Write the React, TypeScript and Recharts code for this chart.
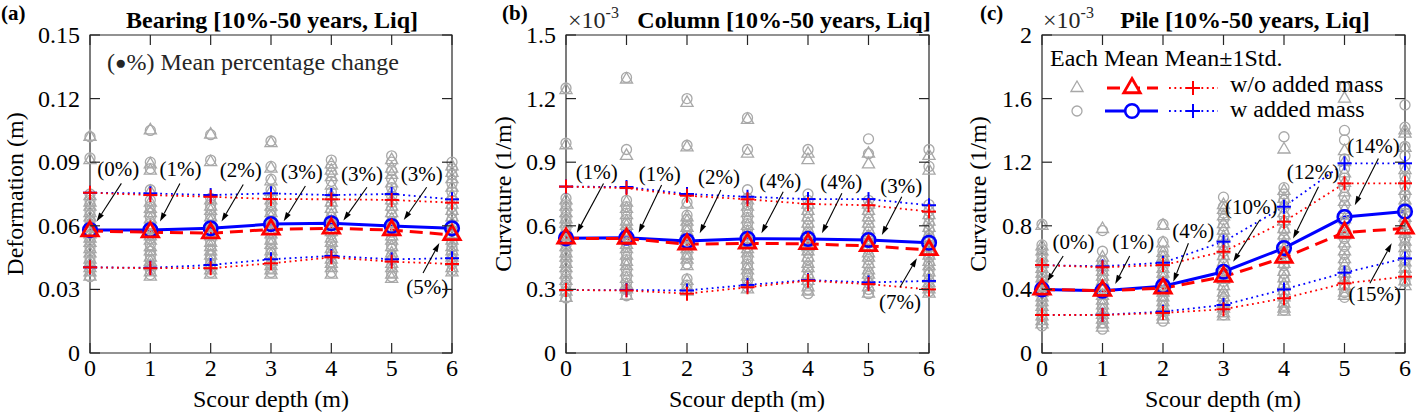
import React from "react";
import {
  ComposedChart,
  Line,
  Scatter,
  XAxis,
  YAxis,
  ReferenceArea,
  ReferenceLine,
  ReferenceDot,
} from "recharts";

const FONT = "'Liberation Serif', 'Times New Roman', serif";
const GREY = "#a8a8a8";
const RED = "#ff0000";
const BLUE = "#0000ff";
const AX = "#262626";

// Scour depth (m)
const depth = [0, 1, 2, 3, 4, 5, 6];

// (a) Bearing deformation (m)
const meanWoA = [0.0575, 0.057, 0.0565, 0.0583, 0.0588, 0.058, 0.0557];
const meanWA = [0.058, 0.058, 0.0588, 0.0608, 0.0612, 0.0599, 0.0588];
const upWoA = [0.0756, 0.0745, 0.0737, 0.0726, 0.0725, 0.0722, 0.0709];
const upWA = [0.0756, 0.0753, 0.0745, 0.0753, 0.0745, 0.075, 0.0725];
const loWoA = [0.0404, 0.040, 0.040, 0.0423, 0.0451, 0.0431, 0.042];
const loWA = [0.0404, 0.0402, 0.0415, 0.0442, 0.0458, 0.0442, 0.0447];
const eachWoA = [
  [0.102, 0.091, 0.074, 0.071, 0.069, 0.066, 0.064, 0.061, 0.059, 0.056, 0.054, 0.052, 0.049, 0.047, 0.044, 0.042, 0.040, 0.038, 0.036],
  [0.105, 0.089, 0.086, 0.076, 0.071, 0.068, 0.066, 0.063, 0.060, 0.058, 0.055, 0.053, 0.050, 0.048, 0.045, 0.043, 0.041, 0.038, 0.036],
  [0.103, 0.090, 0.072, 0.069, 0.067, 0.064, 0.062, 0.059, 0.057, 0.055, 0.052, 0.050, 0.048, 0.046, 0.043, 0.041, 0.039, 0.037],
  [0.099, 0.087, 0.081, 0.076, 0.072, 0.069, 0.066, 0.064, 0.061, 0.058, 0.056, 0.053, 0.051, 0.048, 0.046, 0.043, 0.041, 0.039, 0.037],
  [0.089, 0.086, 0.083, 0.079, 0.074, 0.071, 0.068, 0.065, 0.062, 0.060, 0.057, 0.054, 0.052, 0.049, 0.047, 0.044, 0.042, 0.040, 0.037],
  [0.091, 0.087, 0.084, 0.080, 0.076, 0.072, 0.069, 0.066, 0.063, 0.061, 0.058, 0.055, 0.053, 0.050, 0.047, 0.045, 0.042, 0.040, 0.037, 0.035],
  [0.088, 0.085, 0.082, 0.078, 0.074, 0.070, 0.067, 0.064, 0.061, 0.058, 0.056, 0.053, 0.050, 0.048, 0.045, 0.043, 0.040, 0.038],
];
const eachWA = [
  [0.102, 0.092, 0.075, 0.072, 0.070, 0.067, 0.065, 0.062, 0.060, 0.057, 0.055, 0.053, 0.050, 0.048, 0.045, 0.043, 0.041, 0.039, 0.036],
  [0.105, 0.090, 0.087, 0.077, 0.072, 0.069, 0.066, 0.064, 0.061, 0.059, 0.056, 0.054, 0.051, 0.048, 0.046, 0.044, 0.041, 0.039, 0.037],
  [0.103, 0.091, 0.073, 0.070, 0.068, 0.065, 0.063, 0.060, 0.058, 0.056, 0.053, 0.051, 0.049, 0.046, 0.044, 0.042, 0.040, 0.038],
  [0.100, 0.088, 0.082, 0.077, 0.073, 0.070, 0.067, 0.065, 0.062, 0.060, 0.057, 0.054, 0.052, 0.049, 0.047, 0.045, 0.042, 0.040, 0.038],
  [0.091, 0.088, 0.085, 0.081, 0.076, 0.073, 0.070, 0.067, 0.064, 0.061, 0.058, 0.056, 0.053, 0.051, 0.048, 0.046, 0.043, 0.041, 0.038],
  [0.093, 0.090, 0.086, 0.082, 0.078, 0.074, 0.071, 0.068, 0.065, 0.062, 0.059, 0.057, 0.054, 0.051, 0.049, 0.046, 0.044, 0.041, 0.038, 0.036],
  [0.090, 0.087, 0.084, 0.080, 0.076, 0.072, 0.069, 0.066, 0.063, 0.060, 0.058, 0.055, 0.052, 0.050, 0.047, 0.045, 0.042, 0.039],
];
const pctA = ["(0%)", "(1%)", "(2%)", "(3%)", "(3%)", "(3%)", "(5%)"];

// (b) Column curvature (x1e-3 1/m)
const meanWoB = [0.541, 0.540, 0.513, 0.517, 0.515, 0.505, 0.486];
const meanWB = [0.541, 0.544, 0.528, 0.539, 0.538, 0.533, 0.520];
const upWoB = [0.785, 0.778, 0.742, 0.725, 0.703, 0.697, 0.667];
const upWB = [0.785, 0.783, 0.750, 0.737, 0.726, 0.726, 0.697];
const loWoB = [0.297, 0.295, 0.280, 0.310, 0.341, 0.325, 0.300];
const loWB = [0.297, 0.297, 0.295, 0.321, 0.344, 0.333, 0.340];
const eachWoB = [
  [1.24, 0.98, 0.72, 0.69, 0.66, 0.63, 0.61, 0.58, 0.55, 0.53, 0.50, 0.47, 0.45, 0.42, 0.40, 0.37, 0.34, 0.31, 0.29, 0.26],
  [1.29, 0.93, 0.71, 0.68, 0.65, 0.62, 0.60, 0.57, 0.54, 0.51, 0.49, 0.46, 0.43, 0.41, 0.38, 0.35, 0.32, 0.30, 0.27],
  [1.18, 0.97, 0.70, 0.64, 0.62, 0.59, 0.57, 0.54, 0.51, 0.49, 0.46, 0.44, 0.41, 0.34, 0.31, 0.29],
  [1.10, 0.94, 0.72, 0.69, 0.66, 0.63, 0.60, 0.57, 0.55, 0.52, 0.49, 0.47, 0.44, 0.41, 0.39, 0.36, 0.33, 0.30],
  [0.94, 0.91, 0.70, 0.67, 0.64, 0.61, 0.58, 0.56, 0.53, 0.50, 0.48, 0.45, 0.42, 0.40, 0.37, 0.34, 0.31, 0.29],
  [0.94, 0.89, 0.70, 0.67, 0.64, 0.61, 0.58, 0.55, 0.53, 0.50, 0.47, 0.45, 0.42, 0.39, 0.37, 0.34, 0.31, 0.28],
  [0.93, 0.86, 0.68, 0.65, 0.62, 0.59, 0.56, 0.54, 0.51, 0.48, 0.46, 0.43, 0.41, 0.38, 0.35, 0.33, 0.30, 0.28],
];
const eachWB = [
  [1.25, 0.99, 0.73, 0.70, 0.67, 0.64, 0.62, 0.59, 0.56, 0.54, 0.51, 0.48, 0.46, 0.43, 0.41, 0.38, 0.35, 0.32, 0.29, 0.26],
  [1.30, 0.96, 0.72, 0.69, 0.66, 0.63, 0.61, 0.58, 0.55, 0.52, 0.50, 0.47, 0.44, 0.42, 0.39, 0.36, 0.33, 0.30, 0.27],
  [1.20, 0.98, 0.71, 0.65, 0.63, 0.60, 0.58, 0.55, 0.52, 0.50, 0.47, 0.45, 0.42, 0.35, 0.32, 0.30],
  [1.11, 0.96, 0.77, 0.73, 0.70, 0.67, 0.64, 0.61, 0.58, 0.56, 0.53, 0.50, 0.48, 0.45, 0.42, 0.40, 0.37, 0.34, 0.31],
  [0.96, 0.75, 0.72, 0.69, 0.66, 0.63, 0.60, 0.57, 0.55, 0.52, 0.49, 0.47, 0.44, 0.41, 0.39, 0.36, 0.33, 0.30, 0.28],
  [1.01, 0.94, 0.72, 0.69, 0.66, 0.63, 0.60, 0.57, 0.55, 0.52, 0.49, 0.46, 0.44, 0.41, 0.38, 0.36, 0.33, 0.30, 0.28],
  [0.96, 0.88, 0.70, 0.67, 0.64, 0.61, 0.58, 0.55, 0.53, 0.50, 0.47, 0.45, 0.42, 0.39, 0.37, 0.34, 0.31, 0.29],
];
const pctB = ["(1%)", "(1%)", "(2%)", "(4%)", "(4%)", "(3%)", "(7%)"];

// (c) Pile curvature (x1e-3 1/m)
const meanWoC = [0.40, 0.392, 0.407, 0.48, 0.60, 0.758, 0.784];
const meanWC = [0.40, 0.392, 0.42, 0.511, 0.66, 0.855, 0.89];
const upWoC = [0.553, 0.539, 0.553, 0.637, 0.826, 1.067, 1.067];
const upWC = [0.553, 0.545, 0.568, 0.70, 0.92, 1.193, 1.193];
const loWoC = [0.239, 0.239, 0.252, 0.275, 0.344, 0.438, 0.48];
const loWC = [0.239, 0.24, 0.26, 0.302, 0.40, 0.505, 0.595];
const eachWoC = [
  [0.80, 0.67, 0.64, 0.60, 0.56, 0.53, 0.50, 0.47, 0.44, 0.41, 0.38, 0.35, 0.32, 0.29, 0.26, 0.23, 0.20, 0.18],
  [0.78, 0.60, 0.57, 0.54, 0.51, 0.48, 0.45, 0.42, 0.39, 0.36, 0.33, 0.30, 0.27, 0.24, 0.21, 0.18, 0.16],
  [0.80, 0.69, 0.63, 0.60, 0.57, 0.53, 0.50, 0.47, 0.44, 0.41, 0.38, 0.35, 0.32, 0.29, 0.26, 0.23, 0.21],
  [0.93, 0.90, 0.86, 0.81, 0.77, 0.73, 0.69, 0.65, 0.61, 0.57, 0.53, 0.49, 0.46, 0.42, 0.38, 0.35, 0.31, 0.28, 0.25, 0.23],
  [1.28, 1.02, 0.97, 0.93, 0.88, 0.83, 0.78, 0.74, 0.69, 0.65, 0.60, 0.56, 0.51, 0.47, 0.43, 0.39, 0.35, 0.31, 0.28, 0.26],
  [1.60, 1.27, 1.20, 1.13, 1.07, 1.01, 0.95, 0.90, 0.84, 0.79, 0.74, 0.69, 0.64, 0.59, 0.55, 0.50, 0.46, 0.42, 0.38, 0.36],
  [1.40, 1.38, 1.29, 1.15, 1.09, 1.02, 0.96, 0.91, 0.85, 0.80, 0.75, 0.70, 0.66, 0.61, 0.57, 0.53, 0.49, 0.45, 0.42],
];
const eachWC = [
  [0.81, 0.68, 0.65, 0.61, 0.57, 0.54, 0.51, 0.48, 0.45, 0.42, 0.39, 0.36, 0.33, 0.30, 0.27, 0.24, 0.21, 0.17],
  [0.77, 0.64, 0.58, 0.55, 0.52, 0.49, 0.46, 0.43, 0.40, 0.37, 0.34, 0.31, 0.28, 0.25, 0.22, 0.19, 0.15],
  [0.81, 0.70, 0.64, 0.61, 0.58, 0.54, 0.51, 0.48, 0.45, 0.42, 0.39, 0.36, 0.33, 0.30, 0.27, 0.24, 0.20],
  [0.98, 0.92, 0.88, 0.84, 0.80, 0.76, 0.72, 0.68, 0.64, 0.60, 0.56, 0.52, 0.49, 0.45, 0.41, 0.37, 0.34, 0.30, 0.27, 0.24],
  [1.36, 1.04, 1.00, 0.96, 0.91, 0.86, 0.82, 0.77, 0.72, 0.68, 0.63, 0.59, 0.55, 0.50, 0.46, 0.42, 0.38, 0.34, 0.30, 0.27],
  [1.675, 1.40, 1.34, 1.22, 1.16, 1.10, 1.04, 0.98, 0.93, 0.87, 0.82, 0.77, 0.72, 0.67, 0.62, 0.57, 0.52, 0.48, 0.43, 0.38, 0.35],
  [1.56, 1.42, 1.30, 1.24, 1.17, 1.11, 1.05, 0.99, 0.93, 0.88, 0.82, 0.77, 0.72, 0.67, 0.62, 0.58, 0.54, 0.49, 0.45],
];
const pctC = ["(0%)", "(1%)", "(4%)", "(10%)", "(12%)", "(14%)", "(15%)"];

// annotation layout, in axis units: [textX, textBaselineY, arrowFromX, arrowFromY, arrowToX, arrowToY]
const annotA = [
  [0.47, 0.0835, 0.52, 0.080, 0.11, 0.062],
  [1.5, 0.0835, 1.49, 0.080, 1.16, 0.062],
  [2.5, 0.0828, 2.54, 0.0795, 2.18, 0.062],
  [3.51, 0.0821, 3.57, 0.0788, 3.21, 0.0622],
  [4.51, 0.0813, 4.59, 0.0782, 4.2, 0.0625],
  [5.5, 0.0813, 5.58, 0.0782, 5.2, 0.0627],
  [5.59, 0.0278, 5.52, 0.0377, 5.79, 0.0519],
];
const annotB = [
  [0.51, 0.819, 0.62, 0.80, 0.18, 0.567],
  [1.55, 0.811, 1.58, 0.792, 1.2, 0.567],
  [2.53, 0.796, 2.56, 0.769, 2.21, 0.565],
  [3.54, 0.78, 3.59, 0.761, 3.23, 0.565],
  [4.55, 0.772, 4.56, 0.753, 4.23, 0.565],
  [5.54, 0.756, 5.55, 0.737, 5.22, 0.557],
  [5.52, 0.206, 5.52, 0.31, 5.8, 0.447],
];
const annotC = [
  [0.52, 0.652, 0.35, 0.61, 0.08, 0.448],
  [1.51, 0.652, 1.45, 0.61, 1.21, 0.434],
  [2.5, 0.725, 2.42, 0.69, 2.17, 0.448],
  [3.46, 0.872, 3.6, 0.836, 3.16, 0.574],
  [4.48, 1.092, 4.57, 1.046, 4.15, 0.72],
  [5.48, 1.26, 5.56, 1.224, 5.17, 0.93],
  [5.5, 0.327, 5.42, 0.438, 5.78, 0.69],
];

const PLOT_TOP = 35;
const X_AXIS_H = 64;
const H = 417;

const triPath = (cx: number, cy: number, s: number) =>
  `M${cx},${cy - s} L${cx + s * 0.866},${cy + s * 0.5} L${cx - s * 0.866},${cy + s * 0.5} Z`;

const GreyTri = (q: any) => (
  <path d={triPath(q.cx, q.cy, 7)} fill="none" stroke={GREY} strokeWidth={1.3} />
);
const GreyCircle = (q: any) => (
  <circle cx={q.cx} cy={q.cy} r={5} fill="none" stroke={GREY} strokeWidth={1.3} />
);
const RedTri = (q: any) => (
  <path key={`rt${q.index}`} d={triPath(q.cx, q.cy, 9.5)} fill="none" stroke={RED} strokeWidth={2.8} />
);
const BlueCircle = (q: any) => (
  <circle key={`bc${q.index}`} cx={q.cx} cy={q.cy} r={6.8} fill="none" stroke={BLUE} strokeWidth={2.6} />
);
const plus = (color: string) => (q: any) => (
  <g key={`p${color}${q.index}`} stroke={color} strokeWidth={2}>
    <line x1={q.cx - 7} x2={q.cx + 7} y1={q.cy} y2={q.cy} />
    <line x1={q.cx} x2={q.cx} y1={q.cy - 7} y2={q.cy + 7} />
  </g>
);

const ArrowShape = (q: any) => {
  const { x1, y1, x2, y2 } = q;
  const a = Math.atan2(y2 - y1, x2 - x1);
  const c = Math.cos(a);
  const s = Math.sin(a);
  const L = 9;
  const W = 2.8;
  const bx = x2 - L * c;
  const by = y2 - L * s;
  const pts = `${x2},${y2} ${bx - W * s},${by + W * c} ${bx + W * s},${by - W * c}`;
  return (
    <g>
      <line x1={x1} y1={y1} x2={bx} y2={by} stroke="#000" strokeWidth={1.1} />
      <polygon points={pts} fill="#000" />
    </g>
  );
};

type PanelCfg = {
  left: number;
  width: number;
  yw: number;
  right: number;
  yMax: number;
  yTicks: number[];
  meanWo: number[];
  meanW: number[];
  upWo: number[];
  upW: number[];
  loWo: number[];
  loW: number[];
  eachWo: number[][];
  eachW: number[][];
  pct: string[];
  annot: number[][];
};

function Panel({ p }: { p: PanelCfg }) {
  const plotW = p.width - p.yw - p.right;
  const plotH = H - PLOT_TOP - X_AXIS_H;
  const rows = depth.map((d, i) => ({
    x: d,
    meanWo: p.meanWo[i],
    meanW: p.meanW[i],
    upWo: p.upWo[i],
    upW: p.upW[i],
    loWo: p.loWo[i],
    loW: p.loW[i],
  }));
  const triPts = p.eachWo.flatMap((col, i) => col.map((v) => ({ x: depth[i], y: v })));
  const cirPts = p.eachW.flatMap((col, i) => col.map((v) => ({ x: depth[i], y: v })));

  const xTick = (q: any) => (
    <g>
      <line x1={q.x} x2={q.x} y1={q.y} y2={q.y - 10} stroke={AX} strokeWidth={1.2} />
      <line x1={q.x} x2={q.x} y1={q.y - plotH} y2={q.y - plotH + 10} stroke={AX} strokeWidth={1.2} />
      <text x={q.x} y={q.y + 23} textAnchor="middle" fontSize={24} fontFamily={FONT} fill="#000">
        {String(q.payload.value)}
      </text>
    </g>
  );
  const yTick = (q: any) => (
    <g>
      <line x1={q.x} x2={q.x + 10} y1={q.y} y2={q.y} stroke={AX} strokeWidth={1.2} />
      <line x1={q.x + plotW - 10} x2={q.x + plotW} y1={q.y} y2={q.y} stroke={AX} strokeWidth={1.2} />
      <text x={q.x - 10} y={q.y + 8} textAnchor="end" fontSize={24} fontFamily={FONT} fill="#000">
        {String(q.payload.value)}
      </text>
    </g>
  );

  return (
    <div style={{ position: "absolute", left: p.left, top: 0 }}>
      <ComposedChart
        width={p.width}
        height={H}
        data={rows}
        margin={{ top: PLOT_TOP, right: p.right, bottom: 0, left: 0 }}
      >
        <XAxis
          dataKey="x"
          type="number"
          domain={[0, 6]}
          ticks={depth}
          interval={0}
          height={X_AXIS_H}
          axisLine={false}
          tickLine={false}
          tickSize={0}
          tickMargin={0}
          tick={xTick}
        />
        <YAxis
          type="number"
          domain={[0, p.yMax]}
          ticks={p.yTicks}
          interval={0}
          width={p.yw}
          axisLine={false}
          tickLine={false}
          tickSize={0}
          tickMargin={0}
          tick={yTick}
        />
        <ReferenceArea x1={0} x2={6} y1={0} y2={p.yMax} fill="none" fillOpacity={0} stroke={AX} strokeWidth={1.2} />
        <Scatter data={cirPts} dataKey="y" shape={GreyCircle} isAnimationActive={false} />
        <Scatter data={triPts} dataKey="y" shape={GreyTri} isAnimationActive={false} />
        <Line dataKey="upW" stroke={BLUE} strokeWidth={1.8} strokeDasharray="1.8 3.6" dot={plus(BLUE)} activeDot={false} isAnimationActive={false} />
        <Line dataKey="loW" stroke={BLUE} strokeWidth={1.8} strokeDasharray="1.8 3.6" dot={plus(BLUE)} activeDot={false} isAnimationActive={false} />
        <Line dataKey="upWo" stroke={RED} strokeWidth={1.8} strokeDasharray="1.8 3.6" dot={plus(RED)} activeDot={false} isAnimationActive={false} />
        <Line dataKey="loWo" stroke={RED} strokeWidth={1.8} strokeDasharray="1.8 3.6" dot={plus(RED)} activeDot={false} isAnimationActive={false} />
        <Line dataKey="meanW" stroke={BLUE} strokeWidth={3} dot={BlueCircle} activeDot={false} isAnimationActive={false} />
        <Line dataKey="meanWo" stroke={RED} strokeWidth={3} strokeDasharray="13 7" dot={RedTri} activeDot={false} isAnimationActive={false} />
        {p.annot.map((a, i) => (
          <ReferenceLine
            key={`al${i}`}
            segment={[
              { x: a[2], y: a[3] },
              { x: a[4], y: a[5] },
            ]}
            stroke="#000"
            ifOverflow="visible"
            shape={ArrowShape}
          />
        ))}
        {p.annot.map((a, i) => (
          <ReferenceDot
            key={`at${i}`}
            x={a[0]}
            y={a[1]}
            r={0}
            ifOverflow="visible"
            shape={(q: any) => (
              <text x={q.cx} y={q.cy} textAnchor="middle" fontSize={21} fontFamily={FONT} fill="#000">
                {p.pct[i]}
              </text>
            )}
          />
        ))}
      </ComposedChart>
    </div>
  );
}

const panels: PanelCfg[] = [
  {
    left: 0, width: 470, yw: 90, right: 18, yMax: 0.15,
    yTicks: [0, 0.03, 0.06, 0.09, 0.12, 0.15],
    meanWo: meanWoA, meanW: meanWA, upWo: upWoA, upW: upWA, loWo: loWoA, loW: loWA,
    eachWo: eachWoA, eachW: eachWA, pct: pctA, annot: annotA,
  },
  {
    left: 470, width: 470, yw: 96, right: 11, yMax: 1.5,
    yTicks: [0, 0.3, 0.6, 0.9, 1.2, 1.5],
    meanWo: meanWoB, meanW: meanWB, upWo: upWoB, upW: upWB, loWo: loWoB, loW: loWB,
    eachWo: eachWoB, eachW: eachWB, pct: pctB, annot: annotB,
  },
  {
    left: 940, width: 478, yw: 102, right: 13, yMax: 2,
    yTicks: [0, 0.4, 0.8, 1.2, 1.6, 2],
    meanWo: meanWoC, meanW: meanWC, upWo: upWoC, upW: upWC, loWo: loWoC, loW: loWC,
    eachWo: eachWoC, eachW: eachWC, pct: pctC, annot: annotC,
  },
];

function Overlay() {
  const dotted = "1.8 3.6";
  return (
    <svg
      width={1418}
      height={H}
      style={{ position: "absolute", left: 0, top: 0, pointerEvents: "none" }}
      fontFamily={FONT}
    >
      {/* panel letters and titles */}
      <text x={1} y={20} fontSize={21} fontWeight="bold">(a)</text>
      <text x={502} y={20} fontSize={21} fontWeight="bold">(b)</text>
      <text x={980} y={20} fontSize={21} fontWeight="bold">(c)</text>
      <text x={272} y={28} fontSize={24} fontWeight="bold" textAnchor="middle">Bearing [10%-50 years, Liq]</text>
      <text x={784} y={28} fontSize={24} fontWeight="bold" textAnchor="middle">Column [10%-50 years, Liq]</text>
      <text x={1245} y={28} fontSize={24} fontWeight="bold" textAnchor="middle">Pile [10%-50 years, Liq]</text>
      <text x={568} y={28} fontSize={24} fill="#262626">
        ×10<tspan dy={-10} fontSize={16}>-3</tspan>
      </text>
      <text x={1043} y={28} fontSize={24} fill="#262626">
        ×10<tspan dy={-10} fontSize={16}>-3</tspan>
      </text>

      {/* axis titles */}
      <text transform="translate(23,194) rotate(-90)" fontSize={24} textAnchor="middle">Deformation (m)</text>
      <text transform="translate(511,194) rotate(-90)" fontSize={24} textAnchor="middle">Curvature (1/m)</text>
      <text transform="translate(986,194) rotate(-90)" fontSize={24} textAnchor="middle">Curvature (1/m)</text>
      <text x={271} y={407} fontSize={24} textAnchor="middle">Scour depth (m)</text>
      <text x={747} y={407} fontSize={24} textAnchor="middle">Scour depth (m)</text>
      <text x={1223} y={407} fontSize={24} textAnchor="middle">Scour depth (m)</text>

      {/* note in (a) */}
      <text x={107} y={70} fontSize={24} fill="#262626">
        (<tspan fontSize={19} dy={-1}>●</tspan><tspan dy={1}>%) Mean percentage change</tspan>
      </text>

      {/* legend in (c) */}
      <text x={1050} y={66} fontSize={24}>Each Mean Mean±1Std.</text>
      <path d={triPath(1077, 88, 7)} fill="none" stroke={GREY} strokeWidth={1.3} />
      <line x1={1105} x2={1158} y1={88} y2={88} stroke={RED} strokeWidth={3} strokeDasharray="13 7" strokeDashoffset={-2} />
      <path d={triPath(1132, 88, 9.5)} fill="#fff" stroke={RED} strokeWidth={2.8} />
      <line x1={1169} x2={1218} y1={88} y2={88} stroke={RED} strokeWidth={1.8} strokeDasharray={dotted} />
      <g stroke={RED} strokeWidth={2}>
        <line x1={1186} x2={1200} y1={88} y2={88} />
        <line x1={1193} x2={1193} y1={81} y2={95} />
      </g>
      <text x={1230} y={92} fontSize={24}>w/o added mass</text>

      <circle cx={1077} cy={111} r={5} fill="none" stroke={GREY} strokeWidth={1.3} />
      <line x1={1105} x2={1158} y1={111} y2={111} stroke={BLUE} strokeWidth={3} />
      <circle cx={1132} cy={111} r={6.8} fill="#fff" stroke={BLUE} strokeWidth={2.6} />
      <line x1={1169} x2={1218} y1={111} y2={111} stroke={BLUE} strokeWidth={1.8} strokeDasharray={dotted} />
      <g stroke={BLUE} strokeWidth={2}>
        <line x1={1186} x2={1200} y1={111} y2={111} />
        <line x1={1193} x2={1193} y1={104} y2={118} />
      </g>
      <text x={1230} y={117} fontSize={24}>w added mass</text>
    </svg>
  );
}

export default function App() {
  return (
    <div
      style={{
        position: "absolute",
        left: 0,
        top: 0,
        width: 1418,
        height: H,
        background: "#fff",
        overflow: "hidden",
        fontFamily: FONT,
      }}
    >
      {panels.map((p, i) => (
        <Panel key={i} p={p} />
      ))}
      <Overlay />
    </div>
  );
}
